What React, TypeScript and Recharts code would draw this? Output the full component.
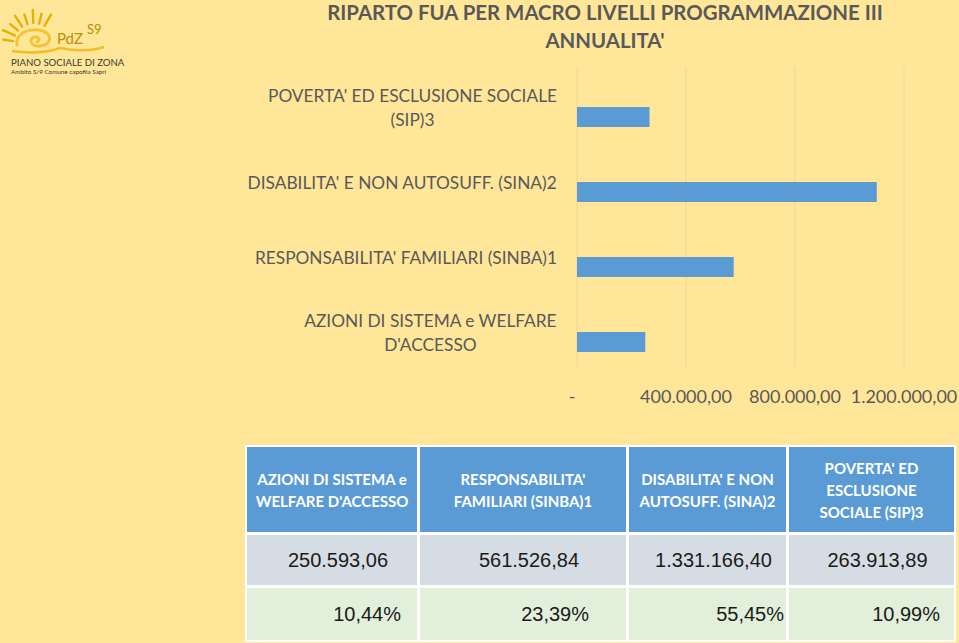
import React from 'react';
import { BarChart, Bar, XAxis, YAxis, CartesianGrid } from 'recharts';

const categories = [
  "AZIONI DI SISTEMA e WELFARE D'ACCESSO",
  "RESPONSABILITA' FAMILIARI (SINBA)1",
  "DISABILITA' E NON AUTOSUFF. (SINA)2",
  "POVERTA' ED ESCLUSIONE SOCIALE (SIP)3",
];
const axisLabelLines = [
  ["AZIONI DI SISTEMA e WELFARE", "D'ACCESSO"],
  ["RESPONSABILITA' FAMILIARI (SINBA)1"],
  ["DISABILITA' E NON AUTOSUFF. (SINA)2"],
  ["POVERTA' ED ESCLUSIONE SOCIALE", "(SIP)3"],
];
const headerLines = [
  ["AZIONI DI SISTEMA e", "WELFARE D'ACCESSO"],
  ["RESPONSABILITA'", "FAMILIARI (SINBA)1"],
  ["DISABILITA' E NON", "AUTOSUFF. (SINA)2"],
  ["POVERTA' ED", "ESCLUSIONE", "SOCIALE (SIP)3"],
];
// bar lengths
const chartAmounts = [250600, 575000, 1100000, 266000];
// values printed in the table
const tableAmounts = [250593.06, 561526.84, 1331166.4, 263913.89];
const sharePercents = [10.44, 23.39, 55.45, 10.99];
const xTicks = [0, 400000, 800000, 1200000];

const TITLE_LINES = ["RIPARTO FUA PER MACRO LIVELLI PROGRAMMAZIONE III", "ANNUALITA'"];

const BG = '#FFE699';
const BAR = '#5B9BD5';
const GREY = '#595959';
const LABEL_FONT = 'Lato, "Open Sans", sans-serif';
const CAT_FONT_SIZE = 17.3;
const TICK_FONT_SIZE = 18;

// styling: right padding of the percentage cells (as laid out in the reference)
const pctPadRight = [16, 37, 2, 14];
const colWidths = [170, 206, 157, 165];

function fmtIt(v: number, decimals = 2): string {
  const neg = v < 0;
  const fixed = Math.abs(v).toFixed(decimals);
  const [ip, dp] = fixed.split('.');
  const grouped = ip.replace(/\B(?=(\d{3})+(?!\d))/g, '.');
  return (neg ? '-' : '') + grouped + (dp ? ',' + dp : '');
}

let canvasCtx: CanvasRenderingContext2D | null = null;
function measure(text: string, font: string): number {
  if (!canvasCtx) {
    const c = document.createElement('canvas');
    canvasCtx = c.getContext('2d');
  }
  if (!canvasCtx) return text.length * 8;
  canvasCtx.font = font;
  return canvasCtx.measureText(text).width;
}

const data = categories
  .map((name, i) => ({
    name,
    value: chartAmounts[i],
    share: sharePercents[i] / 100,
    lines: axisLabelLines[i],
  }))
  .reverse();

const CatTick = (props: any) => {
  const { x, y, payload } = props;
  const item = data.find((d) => d.name === payload.value);
  const lines = item ? item.lines : [String(payload.value)];
  const widths = lines.map((l) => measure(l, `${CAT_FONT_SIZE}px Lato`));
  const maxW = Math.max(...widths);
  const rightX = x - 12;
  const cx = rightX - maxW / 2;
  const lh = 24;
  const y0 = y + 3 - ((lines.length - 1) * lh) / 2;
  return (
    <g>
      {lines.map((l, i) => (
        <text
          key={i}
          x={cx}
          y={y0 + i * lh}
          textAnchor="middle"
          dominantBaseline="central"
          fontFamily={LABEL_FONT}
          fontSize={CAT_FONT_SIZE}
          fill={GREY}
        >
          {l}
        </text>
      ))}
    </g>
  );
};

const ValTick = (props: any) => {
  const { x, y, payload } = props;
  const v = payload.value as number;
  const label = v === 0 ? '-' : fmtIt(v);
  return (
    <text
      x={v === 0 ? x - 5 : x}
      y={y + 21}
      textAnchor="middle"
      dominantBaseline="central"
      fontFamily={LABEL_FONT}
      fontSize={TICK_FONT_SIZE}
      fill={GREY}
    >
      {label}
    </text>
  );
};

const rayAngles = [172, 156, 140, 124, 108, 92, 76, 60];
const Logo = () => {
  const cx = 34;
  const cy = 44;
  return (
    <svg width={125} height={82} style={{ position: 'absolute', left: 0, top: 0 }}>
      {rayAngles.map((a, i) => {
        const r = (a * Math.PI) / 180;
        const r1 = 21;
        const r2 = 31 + (i % 2) * 3;
        return (
          <line
            key={i}
            x1={cx + r1 * Math.cos(r)}
            y1={cy - r1 * Math.sin(r)}
            x2={cx + r2 * Math.cos(r)}
            y2={cy - r2 * Math.sin(r)}
            stroke="#E5B000"
            strokeWidth={2.4}
            strokeLinecap="round"
          />
        );
      })}
      <path
        d="M17 45 C15 33 30 27 43 31 C53 35 51 45 40 46 C31 47 28 39 34 37 C39 36 41 40 37 42"
        fill="none"
        stroke="#F3C437"
        strokeWidth={3}
        strokeLinecap="round"
      />
      <path d="M12 51 Q40 55 60 48 Q85 53 104 47" fill="none" stroke="#F0BE2A" strokeWidth={2.4} />
      <text x={57} y={44} fontFamily="Lato, sans-serif" fontSize={15} fill="#B88F00">PdZ</text>
      <text x={87} y={34} fontFamily="Lato, sans-serif" fontSize={13} fill="#B88F00">S9</text>
      <text x={11} y={66} fontFamily="Lato, sans-serif" fontSize={9.6} fill="#3a3a3a">PIANO SOCIALE DI ZONA</text>
      <text x={11} y={73.5} fontFamily="Lato, sans-serif" fontSize={6.3} fill="#3a3a3a">Ambito S/9 Comune capofila Sapri</text>
    </svg>
  );
};

export default function App() {
  return (
    <div
      style={{
        position: 'absolute',
        left: 0,
        top: 0,
        width: 959,
        height: 643,
        background: BG,
        overflow: 'hidden',
      }}
    >
      <style>{`body{margin:0}`}</style>
      <Logo />
      <div
        style={{
          position: 'absolute',
          left: 305,
          top: -2,
          width: 600,
          textAlign: 'center',
          fontFamily: LABEL_FONT,
          fontWeight: 700,
          fontSize: 20.4,
          lineHeight: '28px',
          color: GREY,
        }}
      >
        {TITLE_LINES.map((t, i) => (
          <div key={i}>{t}</div>
        ))}
      </div>
      <div style={{ position: 'absolute', left: 0, top: 0 }}>
        <BarChart
          width={959}
          height={420}
          data={data}
          layout="vertical"
          margin={{ top: 67, right: 55, bottom: 13, left: 0 }}
          barSize={20}
          barGap={4}
        >
          <CartesianGrid horizontal={false} vertical={true} stroke="#EFD79A" strokeWidth={1} />
          <XAxis
            type="number"
            domain={[0, 1200000]}
            ticks={xTicks}
            axisLine={false}
            tickLine={false}
            height={40}
            tick={<ValTick />}
            interval={0}
          />
          <YAxis
            type="category"
            dataKey="name"
            width={577}
            axisLine={false}
            tickLine={false}
            tick={<CatTick />}
            interval={0}
          />
          <Bar dataKey="share" fill={BAR} isAnimationActive={false} />
          <Bar dataKey="value" fill={BAR} isAnimationActive={false} />
        </BarChart>
      </div>
      <div
        style={{
          position: 'absolute',
          left: 245,
          top: 445,
          padding: 2,
          background: '#FFFFFF',
          display: 'grid',
          gridTemplateColumns: colWidths.map((w) => w + 'px').join(' '),
          gridTemplateRows: '85px 50px 52px',
          gap: 3,
        }}
      >
        {headerLines.map((lines, i) => (
          <div
            key={'h' + i}
            style={{
              background: BAR,
              color: '#FFFFFF',
              fontFamily: LABEL_FONT,
              fontWeight: 700,
              fontSize: 15,
              lineHeight: '22px',
              display: 'flex',
              flexDirection: 'column',
              justifyContent: 'center',
              alignItems: 'center',
              textAlign: 'center',
            }}
          >
            {lines.map((l, j) => (
              <div key={j}>{l}</div>
            ))}
          </div>
        ))}
        {tableAmounts.map((v, i) => (
          <div
            key={'a' + i}
            style={{
              background: '#D6DCE4',
              color: '#1a1a1a',
              fontFamily: '"Liberation Sans", Arial, sans-serif',
              fontSize: 20,
              display: 'flex',
              alignItems: 'center',
              justifyContent: 'center',
              paddingLeft: 12,
            }}
          >
            {fmtIt(v)}
          </div>
        ))}
        {sharePercents.map((v, i) => (
          <div
            key={'p' + i}
            style={{
              background: '#E2EFDA',
              color: '#1a1a1a',
              fontFamily: '"Liberation Sans", Arial, sans-serif',
              fontSize: 20,
              display: 'flex',
              alignItems: 'center',
              justifyContent: 'flex-end',
              paddingRight: pctPadRight[i],
            }}
          >
            {fmtIt(v) + '%'}
          </div>
        ))}
      </div>
    </div>
  );
}
